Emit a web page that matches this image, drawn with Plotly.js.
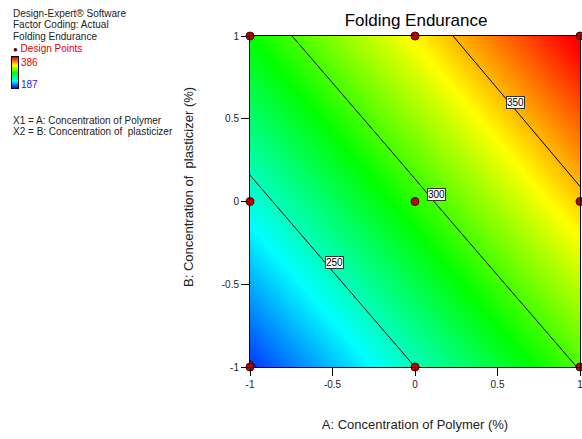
<!DOCTYPE html>
<html>
<head>
<meta charset="utf-8">
<script src="https://cdn.plot.ly/plotly-3.0.1.min.js"></script>
<style>html,body{margin:0;padding:0;background:#fff;}#chart{width:582px;height:439px;}</style>
</head>
<body>
<div id="chart"></div>
<script>
// Factor levels (coded)
const levelsA = [-1, 0, 1];
const levelsB = [-1, 0, 1];
// Predicted Folding Endurance at each grid node (rows = B, cols = A)
const enduranceGrid = [
  [198, 250, 301],   // B = -1
  [243, 294, 346],   // B = 0
  [287, 338, 390]    // B = 1
];
// Design points (3^2 factorial)
const designA = [-1, 0, 1, -1, 0, 1, -1, 0, 1];
const designB = [-1, -1, -1, 0, 0, 0, 1, 1, 1];
// Contour levels and legend range
const contourLevels = [200, 250, 300, 350];
const legendRange = [187, 386];
// Contour label spots (A, B) and their text
const labelA = [0.61, 0.13, -0.49];
const labelB = [0.60, 0.04, -0.37];
const labelText = ['350', '300', '250'];
const tickVals = [-1, -0.5, 0, 0.5, 1];
const tickText = ['-1', '-0.5', '0', '0.5', '1'];

const font = 'Arial, "Liberation Sans", sans-serif';
const cscale = [[0, '#0000ff'], [0.25, '#00ffff'], [0.5, '#00ff00'], [0.75, '#ffff00'], [1, '#ff0000']];

const W = 580, T = 36, H = 331;
const px = v => v / W;
const py = v => (T + H - v) / H;

const traces = [
  {type: 'heatmap', x: levelsA, y: levelsB, z: enduranceGrid, zsmooth: 'best',
   zmin: legendRange[0], zmax: legendRange[1], colorscale: cscale, showscale: false, hoverinfo: 'skip'},
  {type: 'contour', x: levelsA, y: levelsB, z: enduranceGrid, showscale: false,
   contours: {coloring: 'none', start: contourLevels[0], end: contourLevels[contourLevels.length - 1],
              size: contourLevels[1] - contourLevels[0], showlabels: false},
   line: {color: '#000', width: 1}, hoverinfo: 'skip'},
  {type: 'scatter', mode: 'markers', x: designA, y: designB, cliponaxis: false,
   marker: {color: '#c00000', size: 8, line: {color: '#500000', width: 1}}, hoverinfo: 'skip'},
  {type: 'heatmap', xaxis: 'x2', yaxis: 'y2', x: [0, 1], y: [0, 1],
   z: [[legendRange[0], legendRange[0]], [legendRange[1], legendRange[1]]], zsmooth: 'best',
   zmin: legendRange[0], zmax: legendRange[1], colorscale: cscale, showscale: false, hoverinfo: 'skip'}
];

const annotations = [];
for (let i = 0; i < labelText.length; i++) {
  annotations.push({x: labelA[i], y: labelB[i], xref: 'x', yref: 'y', text: labelText[i], showarrow: false,
    bgcolor: '#fff', bordercolor: '#333', borderwidth: 1, borderpad: 0,
    font: {family: font, size: 10, color: '#000'}});
}
const leftLines = [
  ['Design-Expert® Software', 13, '#222'],
  ['Factor Coding: Actual', 25, '#222'],
  ['Folding Endurance', 37, '#222'],
  ['X1 = A: Concentration of Polymer', 120, '#222'],
  ['X2 = B: Concentration of\u00a0 plasticizer', 131, '#222']
];
leftLines.forEach(l => annotations.push({x: px(11), y: py(l[1]), xref: 'paper', yref: 'paper', xanchor: 'left', yanchor: 'middle',
  text: l[0], showarrow: false, font: {family: font, size: 10, color: l[2]}}));
annotations.push({x: px(11), y: py(48), xref: 'paper', yref: 'paper', xanchor: 'left', yanchor: 'middle', showarrow: false,
  text: "<span style='color:#500000;font-size:8px'>●</span> Design Points", font: {family: font, size: 10, color: '#dd0000'}});
annotations.push({x: px(19), y: py(62), xref: 'paper', yref: 'paper', xanchor: 'left', yanchor: 'middle', showarrow: false,
  text: String(legendRange[1]), font: {family: font, size: 10, color: '#ee0000'}});
annotations.push({x: px(19), y: py(84), xref: 'paper', yref: 'paper', xanchor: 'left', yanchor: 'middle', showarrow: false,
  text: String(legendRange[0]), font: {family: font, size: 10, color: '#2222ee'}});
// y-axis title (placed as rotated text)
annotations.push({x: px(188), y: py(187), xref: 'paper', yref: 'paper', xanchor: 'center', yanchor: 'middle', showarrow: false,
  textangle: -90, text: 'B: Concentration of\u00a0 plasticizer (%)', font: {family: font, size: 13, color: '#222'}});

const axisBase = {range: [-1, 1], tickvals: tickVals, ticktext: tickText, ticks: 'outside', ticklen: 8,
  tickcolor: '#000', showline: true, mirror: true, linecolor: '#000', linewidth: 1, showgrid: false,
  zeroline: false, ticklabeloverflow: 'allow', tickfont: {family: font, size: 10, color: '#222'}};

const layout = {
  width: 582, height: 439,
  margin: {l: 0, r: 2, t: 36, b: 72},
  paper_bgcolor: '#fff', plot_bgcolor: '#fff',
  showlegend: false,
  font: {family: font},
  title: {text: 'Folding Endurance', x: px(416), xref: 'paper', xanchor: 'center', y: 1 - 20 / 439, yanchor: 'middle',
          font: {family: font, size: 17, color: '#000'}},
  xaxis: Object.assign({}, axisBase, {domain: [px(250), 1],
    title: {text: 'A: Concentration of Polymer (%)', standoff: 30, font: {family: font, size: 13, color: '#222'}}}),
  yaxis: Object.assign({}, axisBase, {domain: [0, 1]}),
  xaxis2: {domain: [px(12), px(18)], range: [0, 1], anchor: 'y2', showticklabels: false, ticks: '', showgrid: false,
           zeroline: false, showline: true, mirror: true, linecolor: '#000', linewidth: 1},
  yaxis2: {domain: [py(88), py(57)], range: [0, 1], anchor: 'x2', showticklabels: false, ticks: '', showgrid: false,
           zeroline: false, showline: true, mirror: true, linecolor: '#000', linewidth: 1},
  annotations: annotations
};

Plotly.newPlot('chart', traces, layout, {displayModeBar: false, staticPlot: true});
</script>
</body>
</html>
